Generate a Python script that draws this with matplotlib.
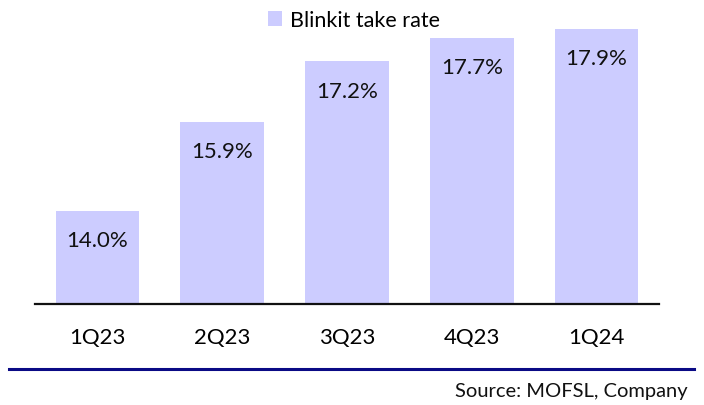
import matplotlib
matplotlib.use("Agg")
import matplotlib.pyplot as plt
from matplotlib.lines import Line2D
from matplotlib.patches import Patch

categories = ["1Q23", "2Q23", "3Q23", "4Q23", "1Q24"]
take_rate = [14.0, 15.9, 17.2, 17.7, 17.9]
series_name = "Blinkit take rate"
source_text = "Source: MOFSL, Company"

plt.rcParams['font.family'] = ['Lato', 'DejaVu Sans']

W, H = 704, 406
fig = plt.figure(figsize=(W / 100, H / 100), dpi=100)
ax = fig.add_axes([35 / W, 1 - 305 / H, 624 / W, 280 / H])

bar_color = "#ccccff"
x = list(range(len(categories)))
ax.bar(x, take_rate, width=0.67, color=bar_color, zorder=2)
ax.set_xlim(-0.5, len(categories) - 0.5)
ax.set_ylim(12, 18)

for xi, v in zip(x, take_rate):
    ax.annotate(f"{v:.1f}%", xy=(xi, v), xytext=(0, -21), textcoords="offset points",
                ha="center", va="center", fontsize=16, color="#111111")

ax.set_xticks(x)
ax.set_xticklabels(categories, fontsize=16)
ax.tick_params(axis="x", length=0, pad=16.5)
ax.set_yticks([])
for s in ["top", "right", "left"]:
    ax.spines[s].set_visible(False)
ax.spines["bottom"].set_linewidth(1.6)
ax.spines["bottom"].set_color("#111111")

handle = Patch(facecolor=bar_color, edgecolor="none")
fig.legend([handle], [series_name], loc="center", bbox_to_anchor=(354 / W, 1 - 21 / H),
           frameon=False, fontsize=15.5, handlelength=0.65, handleheight=0.65,
           handletextpad=0.4, borderpad=0)

fig.add_artist(Line2D([9 / W, 694 / W], [1 - 369.5 / H, 1 - 369.5 / H],
                      transform=fig.transFigure, color="#0a0a85", linewidth=2.2))
fig.text(688 / W, 1 - 392 / H, source_text, ha="right", va="center", fontsize=14.5,
         color="#111111")

fig.savefig("out.png", dpi=100)
